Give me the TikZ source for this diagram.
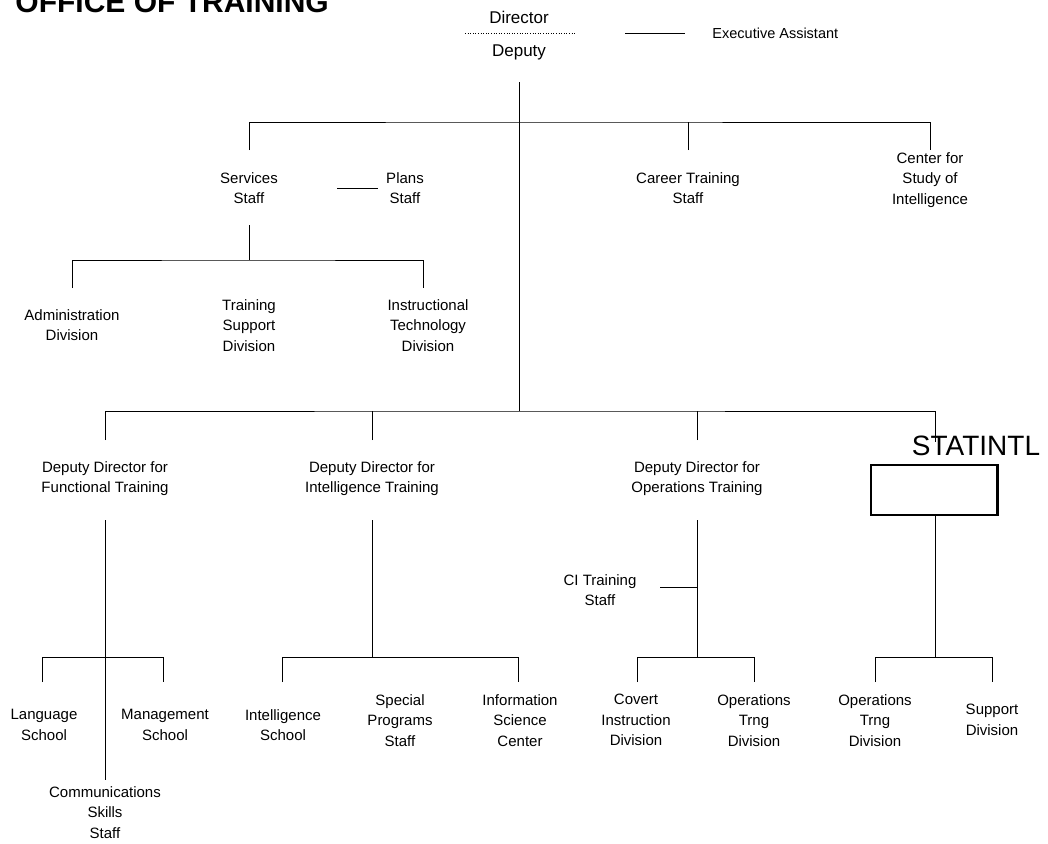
\documentclass[tikz,border=0pt]{standalone}
\usepackage{fontspec}
\setmainfont{Liberation Sans}
\begin{document}
\begin{tikzpicture}[x=1pt,y=-1pt,line width=0.9pt,
  unit/.style={align=center,inner sep=0pt,anchor=north,font=\fontsize{15}{20.5}\selectfont},
  head/.style={inner sep=0pt,font=\fontsize{17}{20}\selectfont},
  link/.style={line width=0.9pt}]
\useasboundingbox (0,0) rectangle (1048,843);

% title
\node[anchor=base west,inner sep=0pt,font=\fontsize{30}{30}\selectfont\bfseries] (title) at (15,13) {OFFICE OF TRAINING};

% director's office
\node[head] (dir) at (519,17) {Director};
\node[head] (dep) at (519,52) {Deputy};
\coordinate (dsep) at (519,33);
\node[anchor=west,inner sep=0pt,font=\fontsize{14.5}{16}\selectfont] (exec) at (712,33) {Executive Assistant};
\draw[dotted,line width=0.6pt] ([xshift=-54pt]dsep) -- ([xshift=56pt]dsep);
\draw[link,shorten <=106pt,shorten >=27pt] (dsep) -- (exec.west);

% staffs under the director
\node[unit] (svc) at (249,172) {Services\\Staff};
\node[unit] (pls) at (405,172) {Plans\\Staff};
\node[unit] (cts) at (688,172) {Career Training\\Staff};
\node[unit] (csi) at (930,152) {Center for\\Study of\\Intelligence};

\coordinate (trunkTop) at (519,82);
\coordinate (jTop) at (519,122);
\coordinate (jMid) at (519,411);
\coordinate (svcIn) at (249,150);
\coordinate (ctsIn) at (688,150);
\coordinate (csiIn) at (930,150);
\draw[link] (trunkTop) -- (jMid);
\draw[link] (svcIn) |- (jTop) -| (csiIn);
\draw[link] (ctsIn) -- (ctsIn |- jTop);
\draw[link,shorten <=88pt,shorten >=27pt] (svc.center) -- (pls.center);

% services staff divisions
\node[unit] (adm) at (72,309) {Administration\\Division};
\node[unit] (tsd) at (249,299) {Training\\Support\\Division};
\node[unit] (itd) at (428,299) {Instructional\\Technology\\Division};
\coordinate (svcOut) at (249,225);
\coordinate (svcBar) at (249,260);
\coordinate (admIn) at (72,288);
\coordinate (itdIn) at (423,288);
\draw[link] (svcOut) -- (svcBar);
\draw[link] (admIn) |- (svcBar) -| (itdIn);

% deputy directors
\node[unit] (ddf) at (105,461) {Deputy Director for\\Functional Training};
\node[unit] (ddi) at (372,461) {Deputy Director for\\Intelligence Training};
\node[unit] (ddo) at (697,461) {Deputy Director for\\Operations Training};
\node[inner sep=0pt,font=\fontsize{28}{28}\selectfont] (stat) at (976,446) {STATINTL};
\node[draw,line width=2.4pt,minimum width=126.6pt,minimum height=49.6pt,inner sep=0pt] (blank) at (934,490) {};

\coordinate (ddfIn) at (105,440);
\coordinate (ddiIn) at (372,440);
\coordinate (ddoIn) at (697,440);
\coordinate (stIn) at (935,442);
\draw[link] (ddfIn) |- (jMid) -| (stIn);
\draw[link] (ddiIn) -- (ddiIn |- jMid);
\draw[link] (ddoIn) -- (ddoIn |- jMid);

% functional training
\node[unit] (ls) at (44,709) {Language\\School};
\node[unit] (ms) at (165,709) {Management\\School};
\node[unit] (css) at (105,786) {Communications\\Skills\\Staff};
\coordinate (ddfOut) at (105,520);
\coordinate (fBar) at (105,657);
\coordinate (cssIn) at (105,780);
\coordinate (lsIn) at (42,682);
\coordinate (msIn) at (163,682);
\draw[link] (ddfOut) -- (cssIn);
\draw[link] (lsIn) |- (fBar) -| (msIn);

% intelligence training
\node[unit] (is) at (283,709) {Intelligence\\School};
\node[unit] (sps) at (400,694) {Special\\Programs\\Staff};
\node[unit] (isc) at (520,694) {Information\\Science\\Center};
\coordinate (ddiOut) at (372,520);
\coordinate (iBar) at (372,657);
\coordinate (isIn) at (282,682);
\coordinate (iscIn) at (518,682);
\draw[link] (ddiOut) -- (iBar);
\draw[link] (isIn) |- (iBar) -| (iscIn);

% operations training
\node[unit] (ci) at (600,574) {CI Training\\Staff};
\node[unit] (cid) at (636,694) {Covert\\Instruction\\Division};
\node[unit] (otd) at (754,694) {Operations\\Trng\\Division};
\coordinate (ddoOut) at (697,520);
\coordinate (oBar) at (697,657);
\coordinate (ciJ) at (697,587);
\coordinate (ciEnd) at (660,587);
\coordinate (cidIn) at (637,682);
\coordinate (otdIn) at (754,682);
\draw[link] (ddoOut) -- (oBar);
\draw[link] (ciEnd) -- (ciJ);
\draw[link] (cidIn) |- (oBar) -| (otdIn);

% unnamed component
\node[unit] (otd2) at (875,694) {Operations\\Trng\\Division};
\node[unit] (sup) at (992,704) {Support\\Division};
\coordinate (sBar) at (935,657);
\coordinate (otd2In) at (875,682);
\coordinate (supIn) at (992,682);
\draw[link] (blank.south -| sBar) -- (sBar);
\draw[link] (otd2In) |- (sBar) -| (supIn);
\end{tikzpicture}
\end{document}
